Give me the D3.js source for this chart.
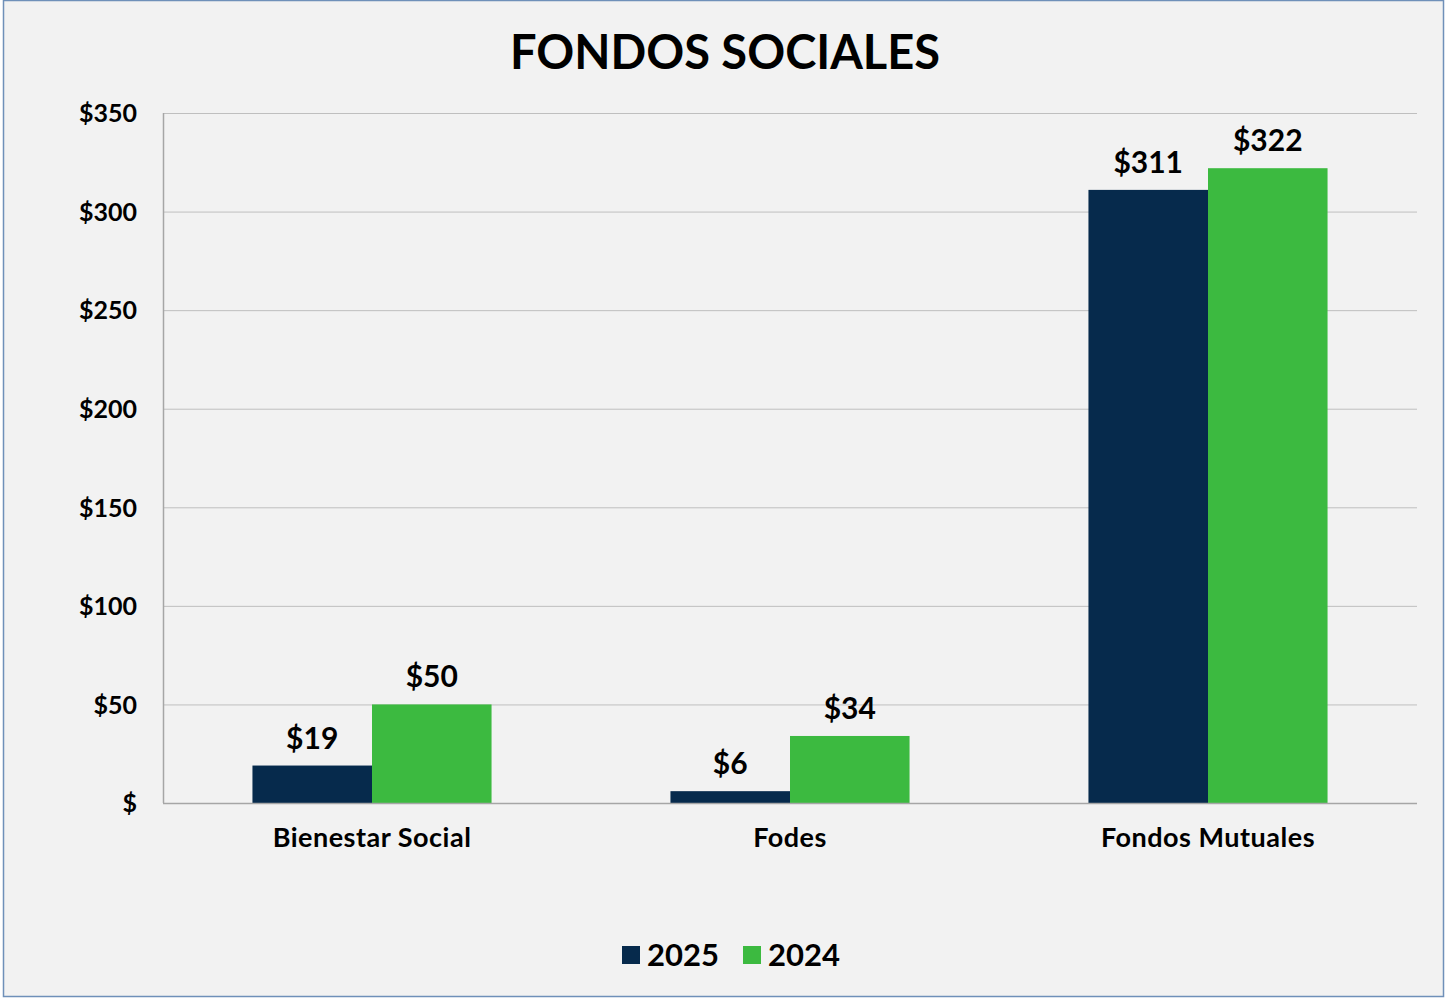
<!DOCTYPE html>
<html lang="es">
<head>
<meta charset="UTF-8">
<title>Fondos Sociales</title>
<script src="https://d3js.org/d3.v7.min.js"></script>
<style>
  html, body { margin: 0; padding: 0; background: #ffffff; }
  svg { display: block; font-family: Lato, "Noto Sans", sans-serif; }
  .axis { font-family: Lato, "Noto Sans", sans-serif; }
  .axis text { font-weight: bold; fill: #000; }
  .y-axis text { font-size: 25px; }
  .x-axis text { font-size: 27px; letter-spacing: 0.5px; }
</style>
</head>
<body>
<svg id="chart" width="1445" height="998"></svg>
<script>
// Data
const categories = ["Bienestar Social", "Fodes", "Fondos Mutuales"];
const seriesNames = ["2025", "2024"];
const values2025 = [19, 6, 311];
const values2024 = [50, 34, 322];
const yTicks = [0, 50, 100, 150, 200, 250, 300, 350];
const colors = ["#062a4c", "#3cba40"];

const width = 1445, height = 998;
const margin = { top: 113, right: 28, bottom: 195, left: 163 };

const svg = d3.select("#chart");

// background + frame
svg.append("rect")
    .attr("x", 3.5).attr("y", 0.5)
    .attr("width", width - 5).attr("height", height - 2)
    .attr("fill", "#f2f2f2")
    .attr("stroke", "#6f90b9")
    .attr("stroke-width", 1.5);

const x0 = d3.scaleBand()
    .domain(categories)
    .range([margin.left, width - margin.right])
    .paddingInner(0)
    .paddingOuter(0);

const x1 = d3.scaleBand()
    .domain(seriesNames)
    .range([0, x0.bandwidth() * 0.572])
    .padding(0);

const y = d3.scaleLinear()
    .domain([0, 350])
    .range([height - margin.bottom, margin.top]);

// gridlines
svg.append("g")
    .selectAll("line")
    .data(yTicks.filter(d => d > 0))
    .join("line")
    .attr("x1", margin.left).attr("x2", width - margin.right)
    .attr("y1", d => y(d) + 0.5).attr("y2", d => y(d) + 0.5)
    .attr("stroke", "#bfbfbf")
    .attr("stroke-width", 1);

// y axis labels
const yAxis = d3.axisLeft(y)
    .tickValues(yTicks)
    .tickSize(0)
    .tickPadding(26)
    .tickFormat(d => d === 0 ? "$" : "$" + d);

svg.append("g")
    .attr("class", "axis y-axis")
    .attr("transform", `translate(${margin.left},0)`)
    .call(yAxis)
    .call(g => g.attr("font-family", null).attr("font-size", null))
    .call(g => g.select(".domain").remove())
    .selectAll("text").attr("dy", "0.35em");

// bars
const rows = categories.map((c, i) => ({ cat: c, vals: [values2025[i], values2024[i]] }));
const groupOffset = (x0.bandwidth() - x1.range()[1]) / 2;

const groups = svg.append("g")
    .selectAll("g")
    .data(rows)
    .join("g")
    .attr("transform", d => `translate(${x0(d.cat) + groupOffset},0)`);

groups.selectAll("rect")
    .data(d => d.vals.map((v, i) => ({ key: seriesNames[i], v, i })))
    .join("rect")
    .attr("x", d => x1(d.key))
    .attr("y", d => y(d.v))
    .attr("width", x1.bandwidth())
    .attr("height", d => y(0) - y(d.v))
    .attr("fill", d => colors[d.i]);

groups.selectAll("text.val")
    .data(d => d.vals.map((v, i) => ({ key: seriesNames[i], v, i })))
    .join("text")
    .attr("class", "val")
    .attr("x", d => x1(d.key) + x1.bandwidth() / 2)
    .attr("y", d => y(d.v) - 17)
    .attr("text-anchor", "middle")
    .attr("font-size", 30)
    .attr("font-weight", "bold")
    .text(d => "$" + d.v);

// axis lines
svg.append("line")
    .attr("x1", margin.left + 0.5).attr("x2", margin.left + 0.5)
    .attr("y1", margin.top).attr("y2", y(0))
    .attr("stroke", "#a6a6a6").attr("stroke-width", 1.5);
svg.append("line")
    .attr("x1", margin.left).attr("x2", width - margin.right)
    .attr("y1", y(0) + 0.5).attr("y2", y(0) + 0.5)
    .attr("stroke", "#a6a6a6").attr("stroke-width", 1.5);

// category labels
const xAxis = d3.axisBottom(x0).tickSize(0).tickPadding(25);
svg.append("g")
    .attr("class", "axis x-axis")
    .attr("transform", `translate(0,${y(0)})`)
    .call(xAxis)
    .call(g => g.attr("font-family", null).attr("font-size", null))
    .call(g => g.select(".domain").remove());

// title
svg.append("text")
    .attr("x", 725).attr("y", 69)
    .attr("text-anchor", "middle")
    .attr("font-size", 47)
    .attr("font-weight", "bold")
    .text("FONDOS SOCIALES");

// legend
const legend = svg.append("g");
const legendX = [622, 743];
seriesNames.forEach((s, i) => {
  legend.append("rect")
      .attr("x", legendX[i]).attr("y", 946)
      .attr("width", 18).attr("height", 18)
      .attr("fill", colors[i]);
  legend.append("text")
      .attr("x", legendX[i] + 25).attr("y", 966)
      .attr("font-size", 31)
      .attr("font-weight", "bold")
      .text(s);
});
</script>
</body>
</html>
